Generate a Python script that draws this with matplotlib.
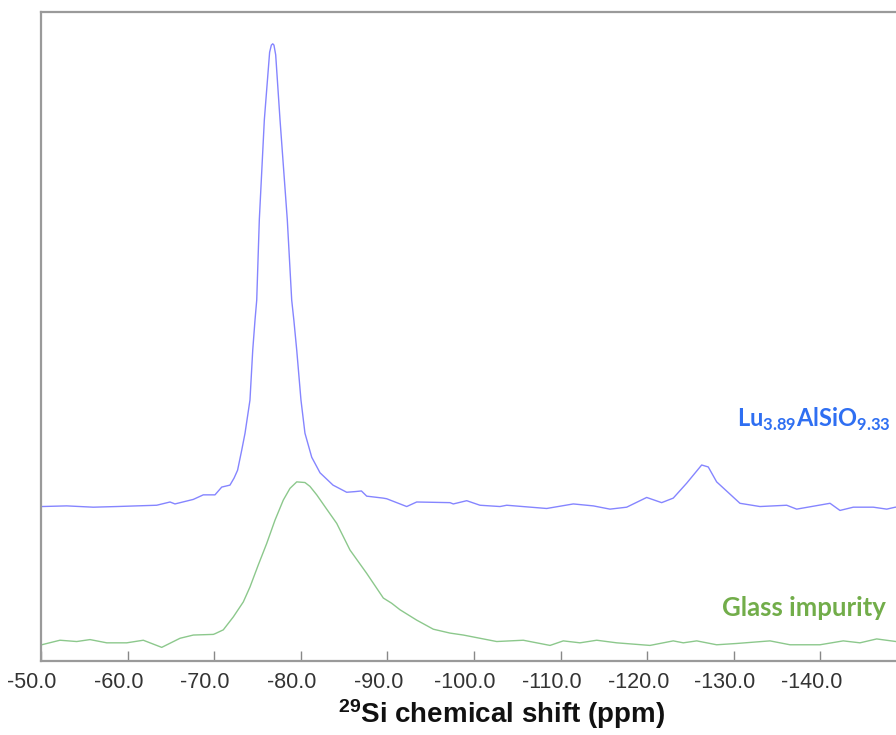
import matplotlib
matplotlib.use("Agg")
import matplotlib.pyplot as plt
from matplotlib.ticker import FixedLocator, FuncFormatter
from matplotlib.transforms import ScaledTranslation

plt.rcParams["mathtext.fontset"] = "custom"
plt.rcParams["mathtext.rm"] = "Lato:bold"
plt.rcParams["mathtext.bf"] = "Liberation Sans:bold"

# Lu3.89AlSiO9.33 spectrum (ppm, intensity a.u.)
lu_ppm = [-50.08, -52.97, -56.04, -58.74, -63.36, -64.90, -65.47, -67.59, -68.74,
          -70.09, -70.87, -71.82, -72.3, -72.7, -73.18, -73.56, -74.13, -74.45,
          -74.71, -74.91, -75.21, -75.79, -76.4, -76.6, -76.76, -76.9, -77.1,
          -77.60, -78.44, -78.95, -79.2, -79.53, -80.02, -80.48, -81.26, -82.22,
          -83.72, -85.30, -86.26, -87.0, -87.61, -89.5, -89.92, -92.23, -93.38,
          -97.23, -97.61, -99.16, -100.69, -103.00, -103.78, -108.39, -111.47,
          -113.78, -115.70, -117.63, -119.94, -121.67, -123.01, -124.56, -126.29,
          -127.05, -128.02, -130.71, -133.02, -136.11, -137.26, -141.11, -142.26,
          -143.80, -146.11, -147.66, -148.65, -150.0]
lu_int = [23.8, 23.9, 23.7, 23.8, 24.0, 24.5, 24.2, 24.9, 25.6,
          25.6, 26.8, 27.1, 28.2, 29.4, 32.5, 35.1, 40.2, 47.9,
          52.5, 55.6, 68.0, 83.4, 93.8, 94.9, 95.1, 94.9, 93.4,
          83.4, 68.0, 55.6, 52.5, 47.9, 40.2, 35.1, 31.4, 29.0,
          27.1, 26.0, 26.1, 26.2, 25.4, 25.1, 25.0, 23.8, 24.5,
          24.4, 24.2, 24.7, 24.0, 23.8, 24.0, 23.5, 24.2,
          23.9, 23.4, 23.7, 25.2, 24.4, 25.1, 27.4, 30.2,
          29.9, 27.6, 24.3, 23.8, 24.0, 23.4, 24.3, 23.2,
          23.7, 23.7, 23.4, 23.7, 23.7]

# Glass impurity spectrum (ppm, intensity a.u.)
gl_ppm = [-50.08, -52.19, -54.12, -55.66, -57.59, -59.90, -61.81, -63.94, -66.05,
          -67.59, -69.90, -70.09, -71.05, -72.21, -73.36, -74.13, -75.09, -76.06,
          -77.02, -77.98, -78.75, -79.53, -80.48, -81.06, -81.84, -82.99, -84.15,
          -85.68, -87.61, -89.53, -90.49, -91.45, -93.38, -95.30, -97.23, -98.77,
          -102.62, -105.69, -108.78, -110.31, -112.24, -114.17, -116.48, -120.32,
          -123.01, -124.17, -125.72, -128.02, -130.33, -134.18, -136.49, -139.95,
          -142.64, -144.57, -146.50, -148.73, -150.0]
gl_int = [2.5, 3.2, 3.0, 3.3, 2.8, 2.8, 3.2, 2.1, 3.5,
          4.0, 4.1, 4.2, 4.8, 6.8, 9.1, 11.4, 14.8, 18.1,
          21.7, 24.8, 26.6, 27.6, 27.5, 26.9, 25.6, 23.4, 21.2,
          17.1, 13.5, 9.7, 8.9, 7.9, 6.3, 4.9, 4.3, 4.0,
          3.0, 3.2, 2.4, 3.1, 2.8, 3.2, 2.8, 2.4,
          3.1, 2.8, 3.1, 2.5, 2.7, 3.1, 2.5, 2.5,
          3.1, 2.8, 3.4, 3.0, 3.0]

xticks = [-50, -60, -70, -80, -90, -100, -110, -120, -130, -140]

fig = plt.figure(figsize=(8.96, 7.35), dpi=100)
ax = fig.add_axes([41/896, 1 - 661/735, 866/896, (661 - 12)/735])

ax.plot(lu_ppm, lu_int, color="#8585ff", lw=1.0)
ax.plot(gl_ppm, gl_int, color="#8cc88c", lw=1.0)

ax.set_xlim(-50, -150)
ax.set_ylim(0, 100)
ax.xaxis.set_major_locator(FixedLocator(xticks))
ax.xaxis.set_major_formatter(FuncFormatter(lambda v, p: f"{v:.1f}"))
ax.set_yticks([])
ax.tick_params(axis="x", direction="in", length=7, width=1, color="#888888",
               labelsize=15.5, labelcolor="#333333", pad=8)
shift = ScaledTranslation(-9/100, 0, fig.dpi_scale_trans)
for lab in ax.get_xticklabels():
    lab.set_fontfamily("Liberation Sans")
    lab.set_transform(lab.get_transform() + shift)

for s in ["left", "top", "bottom", "right"]:
    ax.spines[s].set_color("#9a9a9a")
    ax.spines[s].set_linewidth(1.6)

fig.text(502/896, 1 - 723/735, "$\\mathbf{^{29}}$Si chemical shift (ppm)",
         fontsize=20, fontweight="bold", family="Liberation Sans",
         color="#111111", ha="center", va="baseline")

fig.text(737/896, 1 - 427/735, "Lu$_{\\mathrm{3.89}}$AlSiO$_{\\mathrm{9.33}}$",
         color="#2f6ff2", fontsize=17, fontweight="bold", family="Lato",
         ha="left", va="baseline")
fig.text(722/896, 1 - 616/735, "Glass impurity", color="#72ad4a",
         fontsize=18.5, fontweight="bold", family="Lato", ha="left",
         va="baseline")

fig.savefig("out.png", dpi=100)
